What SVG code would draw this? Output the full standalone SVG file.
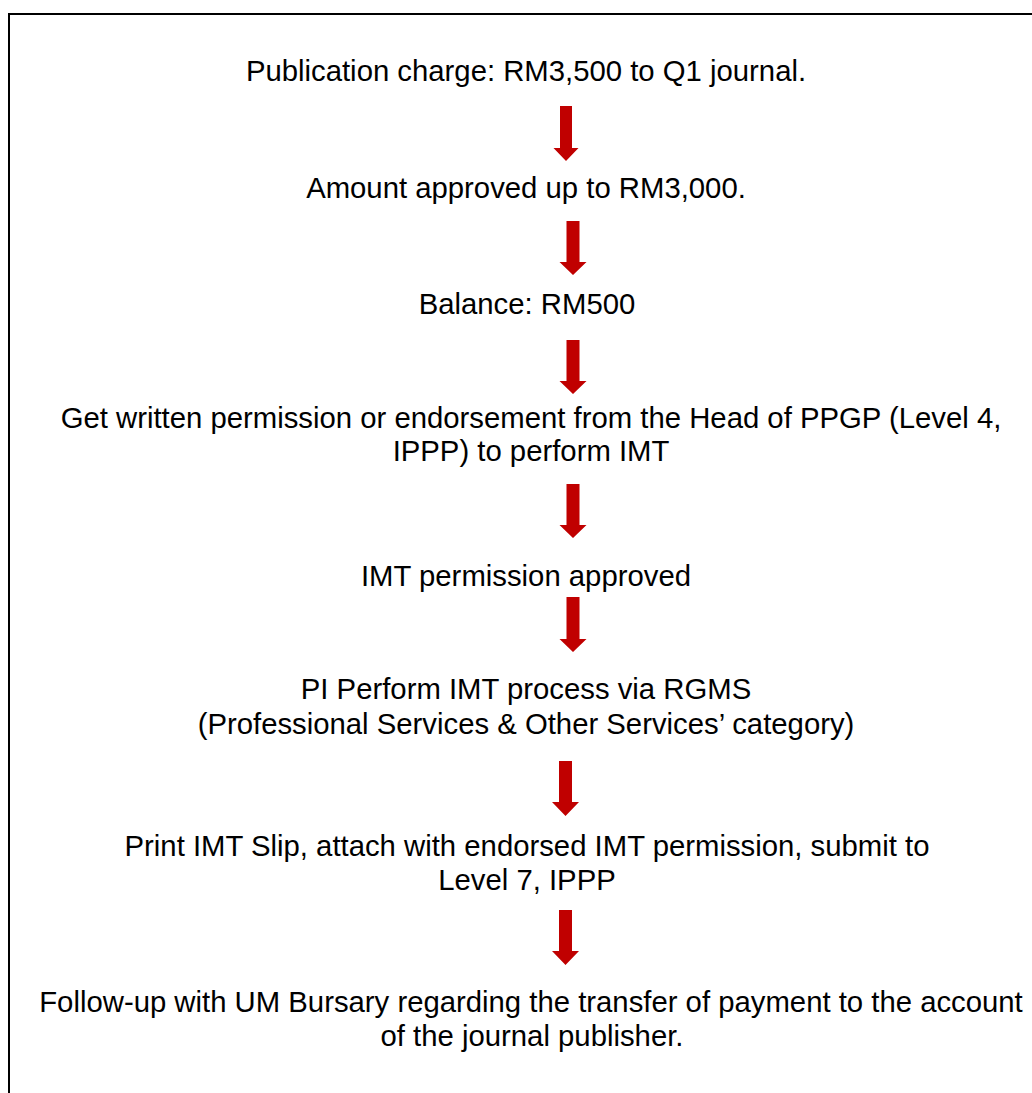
<svg xmlns="http://www.w3.org/2000/svg" width="1032" height="1093" viewBox="0 0 1032 1093">
<defs>
<style>
.t{font-family:"Liberation Sans",Arial,sans-serif;font-size:29.3px;fill:#000;text-anchor:middle}
.a{fill:#C00000}
.b{fill:none;stroke:#000;stroke-width:2}
</style>
</defs>
<rect width="1032" height="1093" fill="#fff"/>
<path class="b" d="M9,1093 V14 H1032"/>
<g id="n1"><text class="t" x="526" y="81">Publication charge: RM3,500 to Q1 journal.</text></g>
<g id="n2"><text class="t" x="526" y="197.5">Amount approved up to RM3,000.</text></g>
<g id="n3"><text class="t" x="527" y="314">Balance: RM500</text></g>
<g id="n4"><text class="t" x="531" y="428">Get written permission or endorsement from the Head of PPGP (Level 4,</text><text class="t" x="531" y="461">IPPP) to perform IMT</text></g>
<g id="n5"><text class="t" x="526" y="586">IMT permission approved</text></g>
<g id="n6"><text class="t" x="526" y="699">PI Perform IMT process via RGMS</text><text class="t" x="526" y="734">(Professional Services &amp; Other Services’ category)</text></g>
<g id="n7"><text class="t" x="527" y="856">Print IMT Slip, attach with endorsed IMT permission, submit to</text><text class="t" x="527" y="890">Level 7, IPPP</text></g>
<g id="n8"><text class="t" x="531" y="1012">Follow-up with UM Bursary regarding the transfer of payment to the account</text><text class="t" x="532" y="1046">of the journal publisher.</text></g>
<g id="connectors">
<path class="a" d="M560,106 H572 V148 H578.5 L566,161 L553.5,148 H560 Z"/>
<path class="a" d="M566.5,221 H579.5 V262 H586.5 L573,275 L559.5,262 H566.5 Z"/>
<path class="a" d="M566.5,340 H579.5 V381 H586.5 L573,394 L559.5,381 H566.5 Z"/>
<path class="a" d="M566.5,484 H579.5 V525 H586.5 L573,538 L559.5,525 H566.5 Z"/>
<path class="a" d="M566.5,597 H579.5 V639 H586.5 L573,652 L559.5,639 H566.5 Z"/>
<path class="a" d="M559,761 H572 V802 H579 L565.5,816 L552,802 H559 Z"/>
<path class="a" d="M559,910 H572 V951 H579 L565.5,965 L552,951 H559 Z"/>
</g>
</svg>
